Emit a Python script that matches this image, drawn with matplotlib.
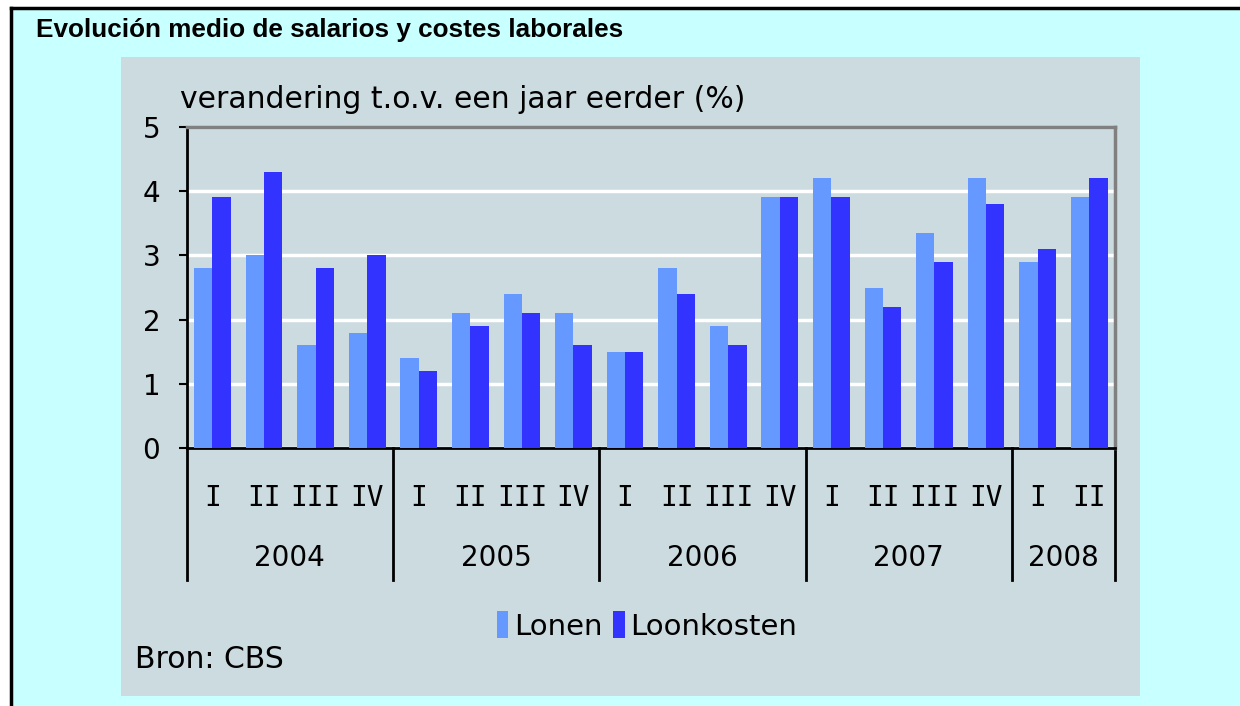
import matplotlib
matplotlib.use("Agg")
import matplotlib.pyplot as plt
from matplotlib.patches import Rectangle
from matplotlib.lines import Line2D
import numpy as np

# =========================================================
# DATA
# =========================================================
years = ["2004", "2005", "2006", "2007", "2008"]
quarters_per_year = [4, 4, 4, 4, 2]
quarter_labels = ["I", "II", "III", "IV"] * 4 + ["I", "II"]

lonen = [2.8, 3.0, 1.6, 1.8,
         1.4, 2.1, 2.4, 2.1,
         1.5, 2.8, 1.9, 3.9,
         4.2, 2.5, 3.35, 4.2,
         2.9, 3.9]
loonkosten = [3.9, 4.3, 2.8, 3.0,
              1.2, 1.9, 2.1, 1.6,
              1.5, 2.4, 1.6, 3.9,
              3.9, 2.2, 2.9, 3.8,
              3.1, 4.2]

LIGHT = "#6699FF"
DARK = "#3333FF"
PANEL = "#CCDBE0"
CYAN = "#C8FFFF"

W, H = 1240, 706

def fx(px):
    return px / W

def fy(py):
    return 1 - py / H

# =========================================================
# FIGURE + BACKGROUNDS
# =========================================================
fig = plt.figure(figsize=(12.4, 7.06), dpi=100, facecolor="white")

fig.patches.append(Rectangle((fx(11), 0), 1 - fx(11), fy(8), transform=fig.transFigure,
                             facecolor=CYAN, edgecolor="none", zorder=0))
fig.lines.append(Line2D([fx(11), fx(11)], [0, fy(8)], transform=fig.transFigure,
                        color="black", linewidth=2.5, zorder=1))
fig.lines.append(Line2D([fx(11), 1], [fy(8), fy(8)], transform=fig.transFigure,
                        color="black", linewidth=2.5, zorder=1))
fig.patches.append(Rectangle((fx(121), fy(695.5)), fx(1140) - fx(121), fy(57) - fy(695.5),
                             transform=fig.transFigure, facecolor=PANEL,
                             edgecolor="none", zorder=1))

fig.text(fx(36), fy(30), "Evolución medio de salarios y costes laborales",
         fontsize=18.8, fontweight="bold", family="Liberation Sans",
         ha="left", va="center")

# =========================================================
# BAR CHART
# =========================================================
ax = fig.add_axes([fx(186.7), fy(448.3), fx(1115) - fx(186.7), fy(126.7) - fy(448.3)])
ax.set_zorder(5)
ax.patch.set_alpha(0)

x = np.arange(len(lonen))
w = 0.355
ax.bar(x - w / 2, lonen, width=w, color=LIGHT, label="Lonen", zorder=3)
ax.bar(x + w / 2, loonkosten, width=w, color=DARK, label="Loonkosten", zorder=3)

ax.set_xlim(-0.5, len(lonen) - 0.5)
ax.set_ylim(0, 5)
ax.set_yticks(range(6))
ax.yaxis.grid(True, color="white", linewidth=2.5, zorder=1)
ax.set_axisbelow(True)
ax.tick_params(axis="y", direction="out", length=6, width=1.5, labelsize=20, pad=13)
ax.set_xticks([])

for side in ["left", "bottom"]:
    ax.spines[side].set_color("black")
    ax.spines[side].set_linewidth(2)
for side in ["top", "right"]:
    ax.spines[side].set_color("#808080")
    ax.spines[side].set_linewidth(2.5)

# quarter labels, year labels and separators below the axis
trans = ax.get_xaxis_transform()
for xi, q in zip(x, quarter_labels):
    ax.text(xi, -0.153, q, transform=trans, ha="center", va="center",
            fontsize=20, family="DejaVu Sans Mono")

bounds = np.concatenate([[0], np.cumsum(quarters_per_year)]) - 0.5
for b in bounds:
    ax.plot([b, b], [0, -0.41], transform=trans, color="black",
            linewidth=2, clip_on=False)
for yr, b0, b1 in zip(years, bounds[:-1], bounds[1:]):
    ax.text((b0 + b1) / 2, -0.34, yr, transform=trans, ha="center",
            va="center", fontsize=20)

fig.text(fx(180), fy(100), "verandering t.o.v. een jaar eerder (%)",
         fontsize=21.5, ha="left", va="center")

fig.legend(loc="center", bbox_to_anchor=(fx(647), fy(626)), ncol=2, frameon=False,
           fontsize=21, handlelength=0.4, handleheight=1.05, handletextpad=0.2,
           columnspacing=0.35)

fig.text(fx(135), fy(660), "Bron: CBS", fontsize=21.5, ha="left", va="center")

fig.savefig("out.png", dpi=100, facecolor=fig.get_facecolor())
